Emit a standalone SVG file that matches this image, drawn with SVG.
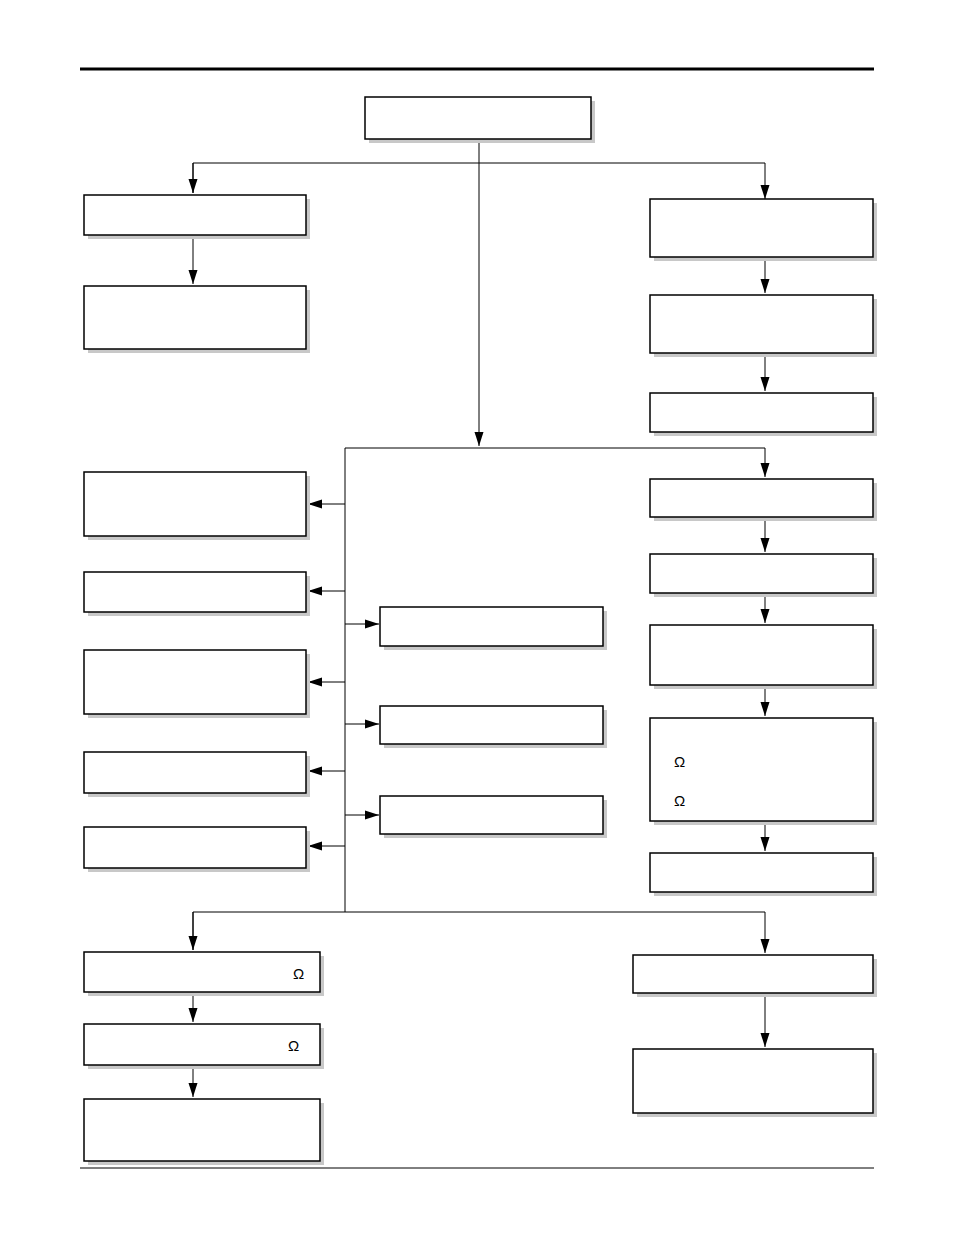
<svg xmlns="http://www.w3.org/2000/svg" width="954" height="1243" viewBox="0 0 954 1243">
<style>
.b rect.s{fill:#c8c8c8}
.b rect.f{fill:#fff;stroke:#000;stroke-width:1.5}
.c path{fill:none;stroke:#000;stroke-width:1}
text{font-family:"Liberation Sans",Arial,sans-serif;font-size:15px}
</style>
<defs><marker id="a" viewBox="0 0 14 10" refX="14" refY="5" markerWidth="14" markerHeight="10" markerUnits="userSpaceOnUse" orient="auto"><path d="M0,0.5 L14,5 L0,9.5 z" fill="#000"/></marker></defs>
<rect width="954" height="1243" fill="#fff"/>
<line x1="80" y1="69" x2="874" y2="69" stroke="#000" stroke-width="3"/>
<line x1="80" y1="1168" x2="874" y2="1168" stroke="#000" stroke-width="1"/>
<g class="c">
<path d="M479,139 V446" marker-end="url(#a)"/>
<path d="M193,193 V163 H765 V199" marker-end="url(#a)"/>
<path d="M193,163 V193" marker-end="url(#a)"/>
<path d="M193,235 V284" marker-end="url(#a)"/>
<path d="M765,257 V293" marker-end="url(#a)"/>
<path d="M765,353 V391" marker-end="url(#a)"/>
<path d="M345,912 V448 H765 V477" marker-end="url(#a)"/>
<path d="M345,504 H308" marker-end="url(#a)"/>
<path d="M345,591 H308" marker-end="url(#a)"/>
<path d="M345,682 H308" marker-end="url(#a)"/>
<path d="M345,771 H308" marker-end="url(#a)"/>
<path d="M345,846 H308" marker-end="url(#a)"/>
<path d="M345,624 H379" marker-end="url(#a)"/>
<path d="M345,724 H379" marker-end="url(#a)"/>
<path d="M345,815 H379" marker-end="url(#a)"/>
<path d="M765,517 V552" marker-end="url(#a)"/>
<path d="M765,593 V623" marker-end="url(#a)"/>
<path d="M765,685 V716" marker-end="url(#a)"/>
<path d="M765,821 V851" marker-end="url(#a)"/>
<path d="M193,950 V912 H765 V953" marker-end="url(#a)"/>
<path d="M193,912 V950" marker-end="url(#a)"/>
<path d="M193,992 V1022" marker-end="url(#a)"/>
<path d="M193,1065 V1097" marker-end="url(#a)"/>
<path d="M765,993 V1047" marker-end="url(#a)"/>
</g>
<g class="b" id="n0"><rect class="s" x="369" y="101" width="226" height="42"/><rect class="f" x="365" y="97" width="226" height="42"/></g>
<g class="b" id="n1"><rect class="s" x="88" y="199" width="222" height="40"/><rect class="f" x="84" y="195" width="222" height="40"/></g>
<g class="b" id="n2"><rect class="s" x="88" y="290" width="222" height="63"/><rect class="f" x="84" y="286" width="222" height="63"/></g>
<g class="b" id="n3"><rect class="s" x="654" y="203" width="223" height="58"/><rect class="f" x="650" y="199" width="223" height="58"/></g>
<g class="b" id="n4"><rect class="s" x="654" y="299" width="223" height="58"/><rect class="f" x="650" y="295" width="223" height="58"/></g>
<g class="b" id="n5"><rect class="s" x="654" y="397" width="223" height="39"/><rect class="f" x="650" y="393" width="223" height="39"/></g>
<g class="b" id="n6"><rect class="s" x="88" y="476" width="222" height="64"/><rect class="f" x="84" y="472" width="222" height="64"/></g>
<g class="b" id="n7"><rect class="s" x="88" y="576" width="222" height="40"/><rect class="f" x="84" y="572" width="222" height="40"/></g>
<g class="b" id="n8"><rect class="s" x="88" y="654" width="222" height="64"/><rect class="f" x="84" y="650" width="222" height="64"/></g>
<g class="b" id="n9"><rect class="s" x="88" y="756" width="222" height="41"/><rect class="f" x="84" y="752" width="222" height="41"/></g>
<g class="b" id="n10"><rect class="s" x="88" y="831" width="222" height="41"/><rect class="f" x="84" y="827" width="222" height="41"/></g>
<g class="b" id="n11"><rect class="s" x="384" y="611" width="223" height="39"/><rect class="f" x="380" y="607" width="223" height="39"/></g>
<g class="b" id="n12"><rect class="s" x="384" y="710" width="223" height="38"/><rect class="f" x="380" y="706" width="223" height="38"/></g>
<g class="b" id="n13"><rect class="s" x="384" y="800" width="223" height="38"/><rect class="f" x="380" y="796" width="223" height="38"/></g>
<g class="b" id="n14"><rect class="s" x="654" y="483" width="223" height="38"/><rect class="f" x="650" y="479" width="223" height="38"/></g>
<g class="b" id="n15"><rect class="s" x="654" y="558" width="223" height="39"/><rect class="f" x="650" y="554" width="223" height="39"/></g>
<g class="b" id="n16"><rect class="s" x="654" y="629" width="223" height="60"/><rect class="f" x="650" y="625" width="223" height="60"/></g>
<g class="b" id="n17"><rect class="s" x="654" y="722" width="223" height="103"/><rect class="f" x="650" y="718" width="223" height="103"/><text x="674" y="767">Ω</text><text x="674" y="806">Ω</text></g>
<g class="b" id="n18"><rect class="s" x="654" y="857" width="223" height="39"/><rect class="f" x="650" y="853" width="223" height="39"/></g>
<g class="b" id="n19"><rect class="s" x="88" y="956" width="236" height="40"/><rect class="f" x="84" y="952" width="236" height="40"/><text x="293" y="979">Ω</text></g>
<g class="b" id="n20"><rect class="s" x="88" y="1028" width="236" height="41"/><rect class="f" x="84" y="1024" width="236" height="41"/><text x="288" y="1051">Ω</text></g>
<g class="b" id="n21"><rect class="s" x="88" y="1103" width="236" height="62"/><rect class="f" x="84" y="1099" width="236" height="62"/></g>
<g class="b" id="n22"><rect class="s" x="637" y="959" width="240" height="38"/><rect class="f" x="633" y="955" width="240" height="38"/></g>
<g class="b" id="n23"><rect class="s" x="637" y="1053" width="240" height="64"/><rect class="f" x="633" y="1049" width="240" height="64"/></g>
</svg>
